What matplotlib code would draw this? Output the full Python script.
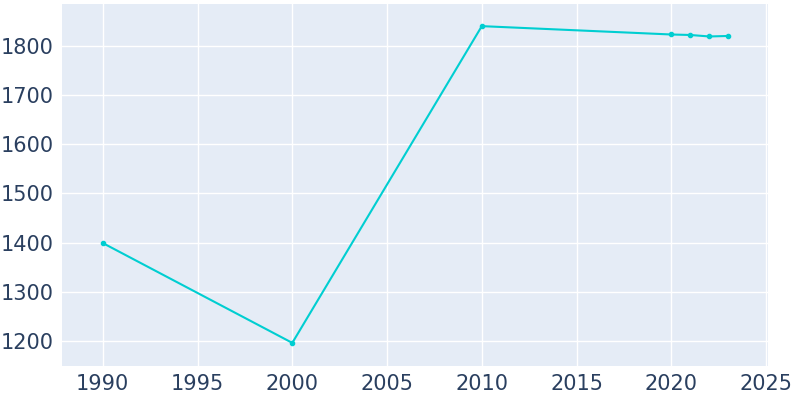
import matplotlib
matplotlib.use('Agg')
import matplotlib.pyplot as plt

years = [1990, 2000, 2010, 2020, 2021, 2022, 2023]
population = [1399, 1196, 1840, 1823, 1822, 1819, 1820]
xticks = [1990, 1995, 2000, 2005, 2010, 2015, 2020, 2025]
yticks = [1200, 1300, 1400, 1500, 1600, 1700, 1800]

fig = plt.figure(figsize=(8, 4), dpi=100)
ax = fig.add_axes([62 / 800, 34 / 400, 706 / 800, 362 / 400])
ax.set_facecolor('#E5ECF6')
ax.plot(years, population, '-o', color='#00CED1', linewidth=1.5, markersize=3)
ax.set_xlim(1987.85, 2025.1)
ax.set_ylim(1149, 1885)
ax.set_xticks(xticks)
ax.set_yticks(yticks)
ax.grid(color='white', linewidth=1)
ax.set_axisbelow(True)
for s in ax.spines.values():
    s.set_visible(False)
ax.tick_params(length=0, labelsize=15, labelcolor='#2a3f5f', pad=6)
fig.savefig('out.png')
